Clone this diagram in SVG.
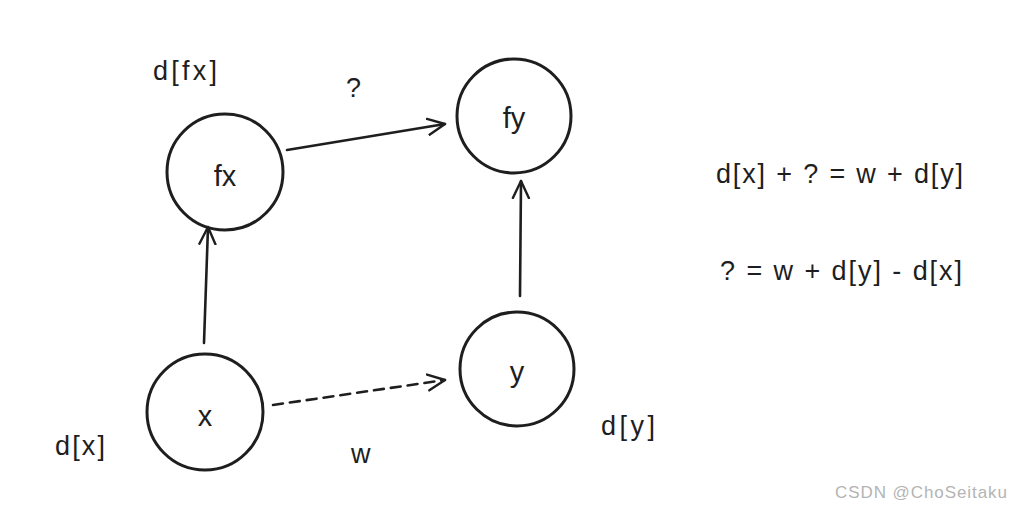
<svg xmlns="http://www.w3.org/2000/svg" width="1011" height="509" viewBox="0 0 1011 509">
<style>
.node{fill:none;stroke:#1e1e1e;stroke-width:3}
.t{font-family:"Liberation Sans Narrow","Liberation Sans",sans-serif;font-size:27px;fill:#1e1e1e}
.c{text-anchor:middle}
.e{stroke:#1e1e1e;stroke-width:2.6;fill:none;stroke-linecap:round;stroke-linejoin:round}
.wm{font-family:"Liberation Sans",sans-serif;font-size:17px;fill:#b4b4b4}
</style>
<defs>
<marker id="ah" viewBox="0 0 20 20" refX="18" refY="10" markerWidth="20" markerHeight="20" markerUnits="userSpaceOnUse" orient="auto">
<path d="M1,2 L18,10 L1,18" fill="none" stroke="#1e1e1e" stroke-width="2.4" stroke-linecap="round" stroke-linejoin="round"/>
</marker>
</defs>
<rect width="1011" height="509" fill="#fff"/>
<g id="connectors">
<path class="e" d="M287,150 L445,124" marker-end="url(#ah)"/>
<path class="e" d="M204,343 L208,227" marker-end="url(#ah)"/>
<path class="e" d="M520,296 L521,181" marker-end="url(#ah)"/>
<path class="e" d="M273,405 L445,380" stroke-dasharray="10,7" marker-end="url(#ah)"/>
</g>
<g id="node-fx"><circle class="node" cx="225" cy="172" r="58"/><text class="t c" x="225" y="186" style="font-size:29px">fx</text></g>
<g id="node-fy"><circle class="node" cx="514" cy="116" r="57"/><text class="t c" x="514" y="128" style="font-size:29px">fy</text></g>
<g id="node-x"><circle class="node" cx="205" cy="412" r="58"/><text class="t c" x="205" y="426" style="font-size:29px">x</text></g>
<g id="node-y"><circle class="node" cx="517" cy="369" r="57"/><text class="t c" x="517" y="382" style="font-size:29px">y</text></g>
<g id="labels">
<text class="t" x="153" y="80" textLength="64">d[fx]</text>
<text class="t" x="346" y="97">?</text>
<text class="t" x="55" y="455" textLength="50">d[x]</text>
<text class="t" x="351" y="463">w</text>
<text class="t" x="601" y="435" textLength="54">d[y]</text>
<text class="t" x="716" y="183" textLength="247">d[x] + ? = w + d[y]</text>
<text class="t" x="720" y="280" textLength="242">? = w + d[y] - d[x]</text>
</g>
<text class="wm" x="835" y="498" textLength="172">CSDN @ChoSeitaku</text>
</svg>
